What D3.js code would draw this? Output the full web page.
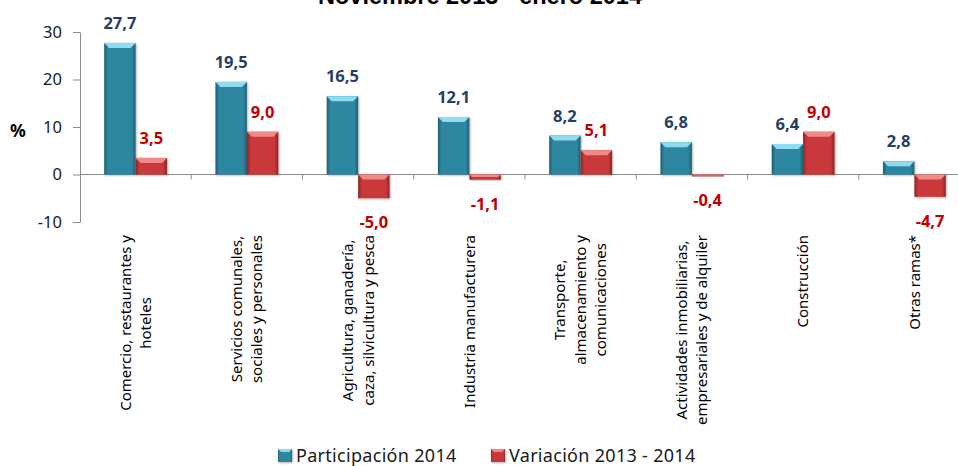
<!DOCTYPE html>
<html>
<head>
<meta charset="utf-8">
<script src="https://cdn.jsdelivr.net/npm/d3@7"></script>
<style>
  body { margin: 0; background: #fff; }
  svg { display: block; }
</style>
</head>
<body>
<div id="ChartContainer"></div>
<script>
const Categories = [
    ["Comercio, restaurantes y", "hoteles"],
    ["Servicios comunales,", "sociales y personales"],
    ["Agricultura, ganadería,", "caza, silvicultura y pesca"],
    ["Industria manufacturera"],
    ["Transporte,", "almacenamiento y", "comunicaciones"],
    ["Actividades inmobiliarias,", "empresariales y de alquiler"],
    ["Construcción"],
    ["Otras ramas*"]
];
const SeriesNames = ["Participación 2014", "Variación 2013 - 2014"];
const Participacion = [27.7, 19.5, 16.5, 12.1, 8.2, 6.8, 6.4, 2.8];
const Variacion = [3.5, 9.0, -5.0, -1.1, 5.1, -0.4, 9.0, -4.7];
const YTicks = [-10, 0, 10, 20, 30];
const TitleText = "Noviembre 2013 - enero 2014";

const SeriesStyle = [
    { base: "#2f87a0", dark: "#1c5f72", light: "#8fdcf0", label: "#243f63" },
    { base: "#c9393a", dark: "#8e2224", light: "#f08a88", label: "#c00000" }
];

const Width = 958, Height = 466;
const Font = "'Noto Sans', 'Open Sans', sans-serif";

const Svg = d3.select("#ChartContainer").append("svg")
    .attr("width", Width).attr("height", Height);

const Defs = Svg.append("defs");
SeriesStyle.forEach((s, i) => {
    const g = Defs.append("linearGradient").attr("id", "grad" + i)
        .attr("x1", "0").attr("x2", "1").attr("y1", "0").attr("y2", "0");
    g.append("stop").attr("offset", "0%").attr("stop-color", s.dark);
    g.append("stop").attr("offset", "12%").attr("stop-color", s.base);
    g.append("stop").attr("offset", "88%").attr("stop-color", s.base);
    g.append("stop").attr("offset", "100%").attr("stop-color", s.dark);
});
const Shadow = Defs.append("filter").attr("id", "shadow")
    .attr("x", "-20%").attr("y", "-20%").attr("width", "140%").attr("height", "140%");
Shadow.append("feDropShadow").attr("dx", 1).attr("dy", 1).attr("stdDeviation", 1.2)
    .attr("flood-color", "#000").attr("flood-opacity", 0.3);

const CatKeys = Categories.map((c, i) => i);
const x = d3.scaleBand().domain(CatKeys).range([80, 970]).padding(0);
const xSub = d3.scaleBand().domain([0, 1]).range([0, x.bandwidth()])
    .paddingInner(0).paddingOuter(0.77);
const y = d3.scaleLinear().domain([-10, 30]).range([222, 32]);

// title (cropped at the top in the original)
Svg.append("text")
    .attr("x", 480).attr("y", 4)
    .attr("text-anchor", "middle")
    .style("font-family", "'Liberation Sans', Arial, sans-serif")
    .style("font-weight", "bold")
    .style("font-size", "23.5px")
    .text(TitleText);

// y axis
const YAxis = Svg.append("g").attr("transform", "translate(80,0)")
    .call(d3.axisLeft(y).tickValues(YTicks).tickSize(7).tickPadding(11).tickSizeOuter(0)
        .tickFormat(d3.format("d")));
YAxis.select(".domain").attr("stroke", "#8c8c8c");
YAxis.selectAll(".tick line").attr("stroke", "#8c8c8c");
YAxis.selectAll(".tick text")
    .style("font-family", Font).style("font-size", "16.5px").attr("fill", "#1a1a1a")
    .text(d => d < 0 ? "-" + Math.abs(d) : d);

Svg.append("text")
    .attr("x", 18).attr("y", 137)
    .attr("text-anchor", "middle")
    .style("font-family", Font).style("font-weight", "bold").style("font-size", "17.5px")
    .text("%");

// x axis at zero
const XAxis = Svg.append("g").attr("transform", `translate(0,${y(0)})`);
XAxis.append("line").attr("x1", 80).attr("x2", 970).attr("stroke", "#8c8c8c");
XAxis.selectAll(".xtick").data(CatKeys.slice(1)).enter().append("line")
    .attr("x1", d => x(d)).attr("x2", d => x(d))
    .attr("y1", 0).attr("y2", 5).attr("stroke", "#8c8c8c");

// bars
const BarData = [];
CatKeys.forEach(i => {
    [Participacion[i], Variacion[i]].forEach((v, s) => BarData.push({ cat: i, s: s, v: v }));
});

const BarG = Svg.append("g");
BarData.forEach(d => {
    const bx = x(d.cat) + xSub(d.s);
    const bw = xSub.bandwidth();
    const top = Math.min(y(d.v), y(0));
    const h = Math.max(Math.abs(y(d.v) - y(0)), 1.5);
    const st = SeriesStyle[d.s];
    const g = BarG.append("g").attr("filter", "url(#shadow)");
    g.append("rect").attr("x", bx).attr("y", top).attr("width", bw).attr("height", h)
        .attr("fill", `url(#grad${d.s})`);
    const bev = Math.min(5, h / 2);
    g.append("path")
        .attr("d", `M${bx},${top} L${bx + bw},${top} L${bx + bw - bev},${top + bev} L${bx + bev},${top + bev} Z`)
        .attr("fill", st.light);
});

// value labels
const LabelG = Svg.append("g");
BarData.forEach(d => {
    const cx = x(d.cat) + xSub(d.s) + xSub.bandwidth() / 2;
    const ly = d.v >= 0 ? y(d.v) - 14 : y(d.v) + 30;
    LabelG.append("text")
        .attr("x", cx).attr("y", ly)
        .attr("text-anchor", "middle")
        .style("font-family", Font).style("font-weight", "bold").style("font-size", "16.5px")
        .attr("fill", SeriesStyle[d.s].label)
        .text(d3.format(".1f")(d.v).replace(".", ",").replace("−", "-"));
});

// category labels, rotated, top aligned block with centred lines
const CatG = Svg.append("g");
const LineGap = 20.5;
const CatFontSize = 15;
CatKeys.forEach(i => {
    const lines = Categories[i];
    const cx = x(i) + x.bandwidth() / 2;
    const texts = lines.map((t, k) => CatG.append("text")
        .style("font-family", Font).style("font-size", CatFontSize + "px")
        .attr("text-anchor", "middle").attr("fill", "#000")
        .text(t));
    const maxW = d3.max(texts, t => t.node().getComputedTextLength());
    const midY = 235 + maxW / 2;
    texts.forEach((t, k) => {
        const lx = cx + (k - (lines.length - 1) / 2) * LineGap + CatFontSize * 0.35;
        t.attr("transform", `translate(${lx},${midY}) rotate(-90)`);
    });
});

// legend
const LegendG = Svg.append("g");
const LegendX = [278, 491];
SeriesNames.forEach((name, s) => {
    const st = SeriesStyle[s];
    const g = LegendG.append("g").attr("transform", `translate(${LegendX[s]},449)`);
    g.append("rect").attr("width", 14).attr("height", 13).attr("fill", `url(#grad${s})`)
        .attr("filter", "url(#shadow)");
    g.append("path").attr("d", "M0,0 L14,0 L11,3 L3,3 Z").attr("fill", st.light);
    g.append("text").attr("x", 18).attr("y", 13)
        .style("font-family", Font).style("font-size", "18px").attr("fill", "#1a1a1a")
        .style("letter-spacing", "0.3px")
        .text(name);
});
</script>
</body>
</html>
